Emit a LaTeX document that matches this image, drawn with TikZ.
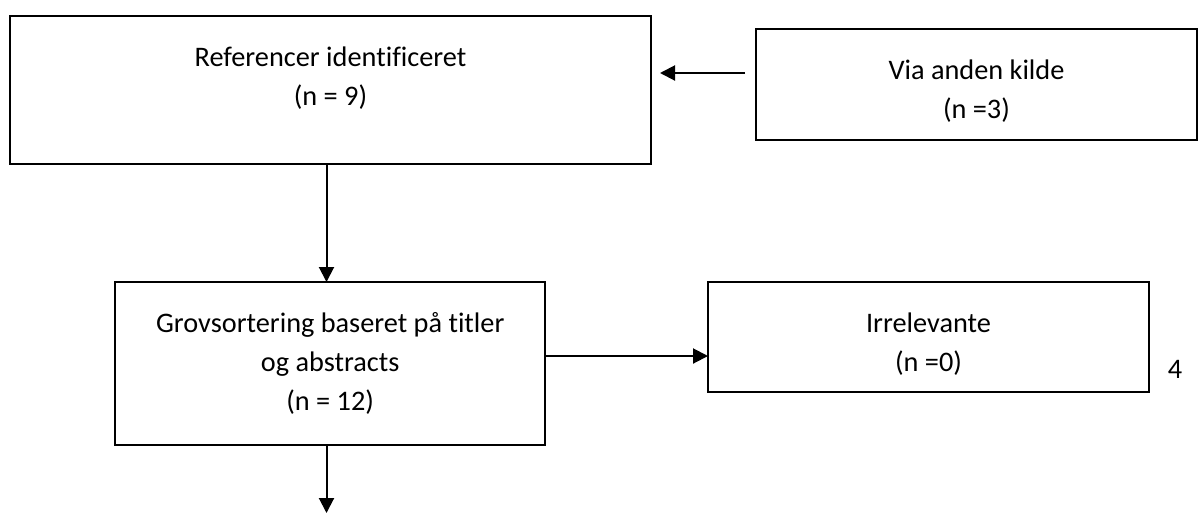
\documentclass[tikz,border=0pt]{standalone}
\usepackage{fontspec}
\setmainfont{Carlito}[Ligatures=CommonOff]
\usetikzlibrary{arrows.meta,calc}
\begin{document}
\begin{tikzpicture}[x=1pt,y=-1pt,
  box/.style={draw=black,line width=2pt,rectangle,outer sep=0pt,inner sep=0pt},
  txt/.style={align=center,font=\fontsize{28.3}{39}\selectfont,inner sep=0pt},
  arr/.style={line width=2pt,-{Triangle[length=15pt,width=15pt]}}]
\useasboundingbox (0,0) rectangle (1199,515);
\node[box,minimum width=641pt,minimum height=148pt] (ref) at (330.5,90) {};
\node[box,minimum width=441pt,minimum height=111pt] (via) at (976.5,84.5) {};
\node[box,minimum width=430pt,minimum height=163pt] (grov) at (330.2,363.5) {};
\node[box,minimum width=441pt,minimum height=110pt] (irr) at (928.5,337) {};
\node[txt] (reft) at (330.5,78) {Referencer identificeret\\(n = 9)};
\node[txt] (viat) at (976.5,91) {Via anden kilde\\(n =3)};
\node[txt] (grovt) at (330.2,363) {Grovsortering baseret på titler\\og abstracts\\(n = 12)};
\node[txt] (irrt) at (928.5,344) {Irrelevante\\(n =0)};
\node[txt] (four) at (1175,369) {4};
\coordinate (v1) at (326.5,0);
\coordinate (h1) at (0,356);
\coordinate (a1s) at (745,73);
\coordinate (a1e) at (660,73);
\coordinate (bend) at (326.5,513);
\draw[arr] (a1s) -- (a1e);
\draw[arr] (ref.south -| v1) -- (grov.north -| v1);
\draw[arr] (grov.east |- h1) -- (irr.west |- h1);
\draw[arr] (grov.south -| v1) -- (bend);
\end{tikzpicture}
\end{document}
